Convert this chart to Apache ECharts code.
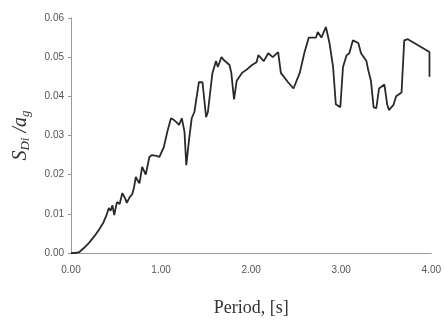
<!DOCTYPE html>
<html>
<head>
<meta charset="utf-8">
<script src="https://cdn.jsdelivr.net/npm/echarts@6/dist/echarts.min.js"></script>
<style>
  html, body { margin: 0; padding: 0; background: #fff; }
  #main { width: 444px; height: 322px; }
</style>
</head>
<body>
<div id="main"></div>
<script>
// period [s]
var period = [
  0.00, 0.05, 0.09, 0.14, 0.20, 0.26, 0.31, 0.36, 0.39, 0.42, 0.44, 0.46, 0.48, 0.51, 0.54,
  0.57, 0.60, 0.62, 0.65, 0.68, 0.70, 0.72, 0.74, 0.76, 0.79, 0.81, 0.83, 0.87, 0.90, 0.92,
  0.95, 0.98, 1.03, 1.07, 1.11, 1.14, 1.17, 1.20, 1.23, 1.26, 1.28, 1.31, 1.34, 1.37, 1.39,
  1.42, 1.46, 1.50, 1.52, 1.57, 1.61, 1.63, 1.67, 1.70, 1.72, 1.76, 1.78, 1.81, 1.84, 1.87,
  1.90, 1.93, 1.96, 2.01, 2.06, 2.08, 2.14, 2.19, 2.24, 2.30, 2.33, 2.41, 2.47, 2.54, 2.59,
  2.64, 2.72, 2.74, 2.78, 2.83, 2.87, 2.91, 2.94, 2.99, 3.02, 3.06, 3.09, 3.13, 3.19, 3.22,
  3.28, 3.30, 3.33, 3.36, 3.39, 3.42, 3.48, 3.51, 3.53, 3.58, 3.61, 3.67, 3.70, 3.74, 3.98,
  3.98
];
// S_Di / a_g
var sdi = [
  0.0000, 0.0000, 0.0002, 0.0012, 0.0026, 0.0043, 0.0059, 0.0078, 0.0094, 0.0115, 0.0108, 0.0122, 0.0097, 0.0130, 0.0125,
  0.0153, 0.0140, 0.0128, 0.0142, 0.0150, 0.0168, 0.0194, 0.0185, 0.0178, 0.0220, 0.0210, 0.0200, 0.0245, 0.0250, 0.0255,
  0.0248, 0.0245, 0.0270, 0.0310, 0.0344, 0.0340, 0.0334, 0.0327, 0.0344, 0.0310, 0.0224, 0.0288, 0.0344, 0.0360, 0.0358,
  0.0436, 0.0436, 0.0347, 0.0360, 0.0459, 0.0490, 0.0475, 0.0500, 0.0492, 0.0490, 0.0480, 0.0460, 0.0392, 0.0440, 0.0450,
  0.0460, 0.0465, 0.0470, 0.0480, 0.0487, 0.0505, 0.0490, 0.0510, 0.0500, 0.0513, 0.0460, 0.0436, 0.0420, 0.0460, 0.0510,
  0.0550, 0.0550, 0.0564, 0.0550, 0.0577, 0.0536, 0.0475, 0.0380, 0.0372, 0.0475, 0.0505, 0.0510, 0.0543, 0.0536, 0.0510,
  0.0490, 0.0467, 0.0440, 0.0372, 0.0370, 0.0420, 0.0430, 0.0380, 0.0365, 0.0378, 0.0400, 0.0410, 0.0543, 0.0546, 0.0513,
  0.0450
];
var xTicks = [0, 1, 2, 3, 4];
var yTicks = [0, 0.01, 0.02, 0.03, 0.04, 0.05, 0.06];

var chart = echarts.init(document.getElementById('main'));

var pts = [];
for (var i = 0; i < period.length; i++) {
  pts.push([period[i], sdi[i]]);
}

var option = {
  animation: false,
  backgroundColor: '#fff',
  grid: { left: 71, right: 10, top: 18, bottom: 69 },
  xAxis: {
    type: 'value',
    min: xTicks[0],
    max: xTicks[xTicks.length - 1],
    interval: 1,
    name: 'Period, [s]',
    nameLocation: 'middle',
    nameGap: 46,
    nameTextStyle: { fontFamily: 'Liberation Serif', fontSize: 18, color: '#333' },
    axisLine: { lineStyle: { color: '#999', width: 1 } },
    axisTick: { show: false },
    splitLine: { show: false },
    axisLabel: {
      margin: 12,
      fontFamily: 'Liberation Sans',
      fontSize: 10,
      color: '#555',
      formatter: function (v) { return v.toFixed(2); }
    }
  },
  yAxis: {
    type: 'value',
    min: yTicks[0],
    max: yTicks[yTicks.length - 1],
    interval: 0.01,
    name: '{m|S}{s|Di}{m| /a}{s|g}',
    nameLocation: 'middle',
    nameGap: 38,
    nameRotate: 90,
    nameTextStyle: {
      rich: {
        m: { fontFamily: 'Liberation Serif', fontStyle: 'italic', fontSize: 20, color: '#333', lineHeight: 24 },
        s: { fontFamily: 'Liberation Serif', fontStyle: 'italic', fontSize: 13, color: '#333', lineHeight: 24, padding: [10, 0, 0, 0] }
      }
    },
    axisLine: { show: true, lineStyle: { color: '#999', width: 1 } },
    axisTick: { show: true, length: 3, lineStyle: { color: '#999' } },
    splitLine: { show: false },
    axisLabel: {
      margin: 7,
      fontFamily: 'Liberation Sans',
      fontSize: 10,
      color: '#555',
      formatter: function (v) { return v.toFixed(2); }
    }
  },
  series: [{
    type: 'line',
    data: pts,
    showSymbol: false,
    lineStyle: { color: '#2a2a2a', width: 1.8 }
  }]
};

chart.setOption(option);
</script>
</body>
</html>
